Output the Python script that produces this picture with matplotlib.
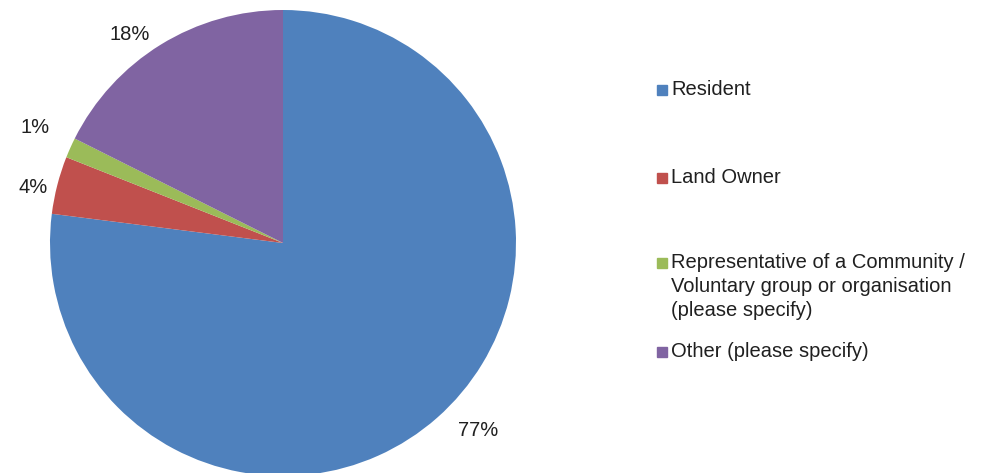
import matplotlib.pyplot as plt
from matplotlib.patches import Rectangle

categories = ['Resident', 'Land Owner',
              'Representative of a Community /\nVoluntary group or organisation\n(please specify)',
              'Other (please specify)']
shares = [77.0, 4.0, 1.4, 17.6]
pct_labels = ['77%', '4%', '1%', '18%']
colors = ['#4F81BD', '#C0504D', '#9BBB59', '#8064A2']

# where Excel put the percentage labels (in pie-radius units)
label_pos = [(0.837, -0.803), (-1.073, 0.240), (-1.064, 0.494), (-0.657, 0.893)]

plt.rcParams['font.family'] = ['Liberation Sans', 'DejaVu Sans']

fig = plt.figure(figsize=(9.86, 4.73), dpi=100)
ax = fig.add_axes([50 / 986, (473 - 243 - 233) / 473, 466 / 986, 466 / 473])
wedges, texts, autotexts = ax.pie(shares, colors=colors, startangle=90, counterclock=False,
                                  autopct='%1.0f%%', pctdistance=1.12,
                                  textprops={'fontsize': 14.5, 'color': '#202020'},
                                  wedgeprops={'linewidth': 0})
for t, lab, pos in zip(autotexts, pct_labels, label_pos):
    t.set_text(lab)
    t.set_position(pos)
ax.set_xlim(-1, 1)
ax.set_ylim(-1, 1)
ax.set_aspect('equal')
ax.axis('off')

# legend drawn by hand to match the uneven spacing
legend_y = [90, 178, 263, 352]
for cat, col, y in zip(categories, colors, legend_y):
    fig.patches.append(Rectangle((657 / 986, (473 - y - 5) / 473), 10 / 986, 10 / 473,
                                 transform=fig.transFigure, color=col))
    fig.text(671 / 986, (473 - y + 10) / 473, cat, fontsize=14.5, color='#202020',
             va='top', ha='left', linespacing=1.33)

fig.savefig('out.png', dpi=100)
